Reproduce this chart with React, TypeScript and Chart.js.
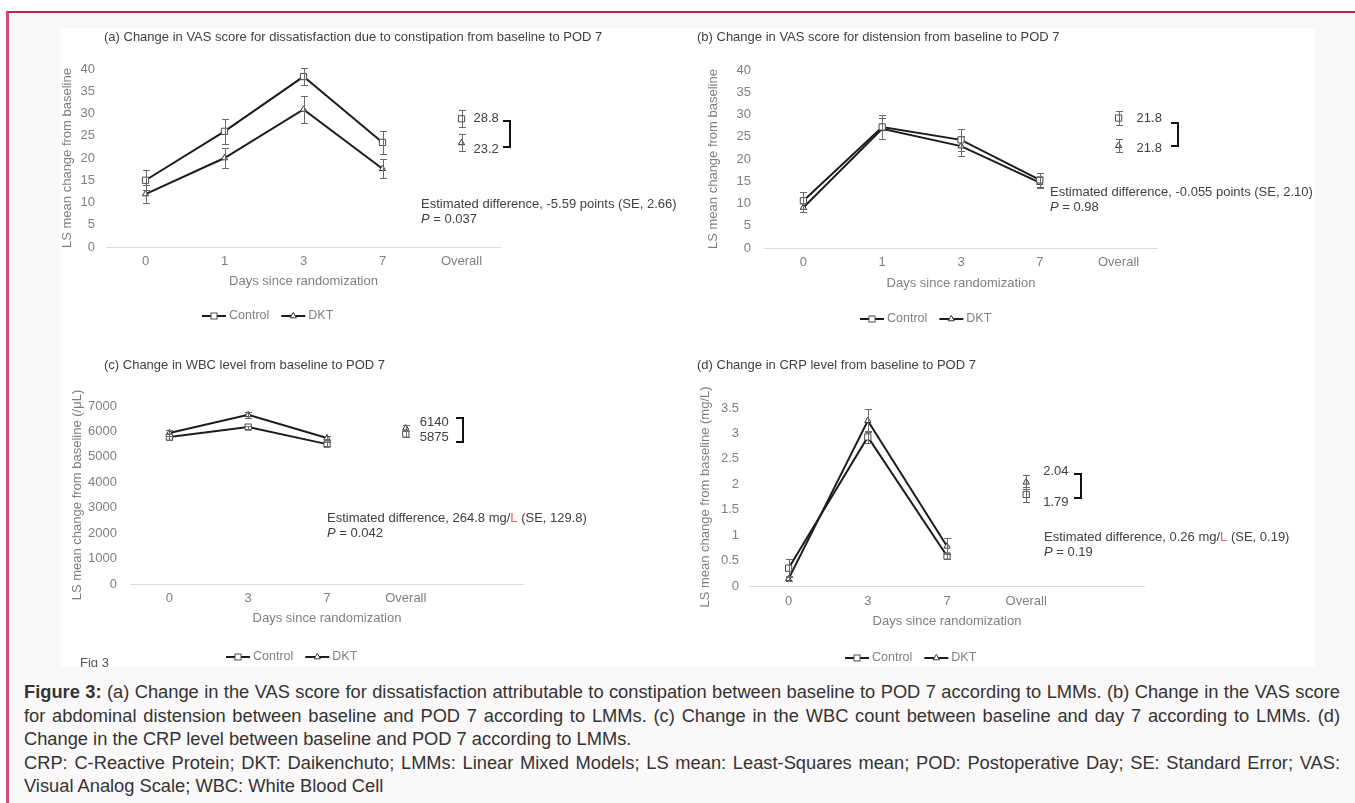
import React, { useEffect, useRef } from 'react';
import { Chart, registerables } from 'chart.js';

Chart.register(...registerables);

const FONT = "'Liberation Sans', Arial, Helvetica, sans-serif";
Chart.defaults.font.family = FONT;

// ---------- Panel (a)
const catsA = ['0', '1', '3', '7', 'Overall'];
const controlA = [15.0, 26.0, 38.3, 23.5];
const controlErrA = [2.3, 2.8, 1.9, 2.6];
const dktA = [11.9, 20.0, 30.9, 17.6];
const dktErrA = [2.0, 2.2, 3.0, 2.2];
const overallA = [28.8, 23.4];
const overallErrA = [1.9, 1.9];
const overallLabelsA = ['28.8', '23.2'];

// ---------- Panel (b)
const catsB = ['0', '1', '3', '7', 'Overall'];
const controlB = [10.6, 27.2, 24.3, 15.3];
const controlErrB = [1.9, 2.7, 2.4, 1.5];
const dktB = [9.1, 26.8, 22.9, 14.7];
const dktErrB = [1.0, 2.4, 2.2, 1.2];
const overallB = [29.2, 23.0];
const overallErrB = [1.5, 1.5];
const overallLabelsB = ['21.8', '21.8'];

// ---------- Panel (c)
const catsC = ['0', '3', '7', 'Overall', ''];
const controlC = [5780, 6170, 5500];
const controlErrC = [100, 60, 80];
const dktC = [5940, 6650, 5740];
const dktErrC = [110, 110, 90];
const overallC = [5900, 6130];
const overallErrC = [130, 120];
const overallLabelsC = ['5875', '6140'];

// ---------- Panel (d)
const catsD = ['0', '3', '7', 'Overall', ''];
const controlD = [0.35, 2.93, 0.59];
const controlErrD = [0.18, 0.12, 0.06];
const dktD = [0.14, 3.25, 0.78];
const dktErrD = [0.05, 0.23, 0.16];
const overallD = [1.8, 2.04];
const overallErrD = [0.15, 0.14];
const overallLabelsD = ['1.79', '2.04'];

const yMaxes = [40, 40, 7000, 3.5];
const ySteps = [5, 5, 1000, 0.5];

type Seg = { t: string; i?: boolean; c?: string };

const RED = '#e06464';

interface Spec {
  cats: string[];
  control: number[];
  controlErr: number[];
  dkt: number[];
  dktErr: number[];
  overall: number[];
  overallErr: number[];
  overallLabels: string[];
  yMax: number;
  yStep: number;
  yTitle: string;
  title: string;
  note: Seg[][];
  extra?: string;
}

interface Lay {
  left: number;
  top: number;
  width: number;
  height: number;
  padT: number;
  padR: number;
  padB: number;
  yW: number;
  yTickPad: number;
  yTitlePad: number;
  xH: number;
  xTickPad: number;
  titlePos: [number, number];
  notePos: [number, number];
  legendY: number;
  labelDx: number;
  labelShift: [number, number];
  bracketDx: number;
  bracketPad: [number, number];
}

const specs: Spec[] = [
  {
    cats: catsA, control: controlA, controlErr: controlErrA, dkt: dktA, dktErr: dktErrA,
    overall: overallA, overallErr: overallErrA, overallLabels: overallLabelsA,
    yMax: yMaxes[0], yStep: ySteps[0],
    yTitle: 'LS mean change from baseline',
    title: '(a) Change in VAS score for dissatisfaction due to constipation from baseline to POD 7',
    note: [[{ t: 'Estimated difference, -5.59 points (SE, 2.66)' }], [{ t: 'P', i: true }, { t: ' = 0.037' }]],
  },
  {
    cats: catsB, control: controlB, controlErr: controlErrB, dkt: dktB, dktErr: dktErrB,
    overall: overallB, overallErr: overallErrB, overallLabels: overallLabelsB,
    yMax: yMaxes[1], yStep: ySteps[1],
    yTitle: 'LS mean change from baseline',
    title: '(b) Change in VAS score for distension from baseline to POD 7',
    note: [[{ t: 'Estimated difference, -0.055 points (SE, 2.10)' }], [{ t: 'P', i: true }, { t: ' = 0.98' }]],
  },
  {
    cats: catsC, control: controlC, controlErr: controlErrC, dkt: dktC, dktErr: dktErrC,
    overall: overallC, overallErr: overallErrC, overallLabels: overallLabelsC,
    yMax: yMaxes[2], yStep: ySteps[2],
    yTitle: 'LS mean change from baseline (/\u03bcL)',
    title: '(c) Change in WBC level from baseline to POD 7',
    note: [[{ t: 'Estimated difference, 264.8 mg/' }, { t: 'L', c: RED }, { t: ' (SE, 129.8)' }], [{ t: 'P', i: true }, { t: ' = 0.042' }]],
    extra: 'Fig 3',
  },
  {
    cats: catsD, control: controlD, controlErr: controlErrD, dkt: dktD, dktErr: dktErrD,
    overall: overallD, overallErr: overallErrD, overallLabels: overallLabelsD,
    yMax: yMaxes[3], yStep: ySteps[3],
    yTitle: 'LS mean change from baseline (mg/L)',
    title: '(d) Change in CRP level from baseline to POD 7',
    note: [[{ t: 'Estimated difference, 0.26 mg/' }, { t: 'L', c: RED }, { t: ' (SE, 0.19)' }], [{ t: 'P', i: true }, { t: ' = 0.19' }]],
  },
];

const lays: Lay[] = [
  {
    left: 60, top: 28, width: 620, height: 312, padT: 41, padR: 179, padB: 51, yW: 46, yTickPad: 11, yTitlePad: 0,
    xH: 42, xTickPad: 7, titlePos: [44, 9], notePos: [361, 176], legendY: 288,
    labelDx: 12, labelShift: [0, 7], bracketDx: 48, bracketPad: [2, -3],
  },
  {
    left: 680, top: 28, width: 635, height: 312, padT: 42, padR: 157, padB: 49, yW: 84, yTickPad: 13, yTitlePad: 26,
    xH: 43, xTickPad: 7, titlePos: [17, 9], notePos: [370, 164], legendY: 291,
    labelDx: 18, labelShift: [0, 3], bracketDx: 59, bracketPad: [5, -3],
  },
  {
    left: 60, top: 340, width: 620, height: 327, padT: 66, padR: 156, padB: 41, yW: 70, yTickPad: 13, yTitlePad: 10,
    xH: 42, xTickPad: 7, titlePos: [44, 25], notePos: [267, 178], legendY: 317,
    labelDx: 14, labelShift: [-6, 3], bracketDx: 57, bracketPad: [-4, 5],
  },
  {
    left: 680, top: 340, width: 635, height: 327, padT: 68, padR: 170, padB: 38, yW: 69, yTickPad: 10, yTitlePad: 18,
    xH: 43, xTickPad: 8, titlePos: [17, 25], notePos: [364, 197], legendY: 318,
    labelDx: 17, labelShift: [-11, 8], bracketDx: 55, bracketPad: [3, -4],
  },
];

const LINE = '#1c1c1c';
const TICK = '#7f7f7f';
const AXT = '#7f7f7f';
const DARK = '#404040';
const ERR = '#6a6a6a';

function drawSquare(ctx: CanvasRenderingContext2D, x: number, y: number, s: number) {
  ctx.save();
  ctx.fillStyle = '#ffffff';
  ctx.strokeStyle = '#4a4a4a';
  ctx.lineWidth = 1;
  ctx.fillRect(x - s / 2, y - s / 2, s, s);
  ctx.strokeRect(x - s / 2, y - s / 2, s, s);
  ctx.restore();
}

function drawTri(ctx: CanvasRenderingContext2D, x: number, y: number, r: number) {
  ctx.save();
  ctx.fillStyle = '#ffffff';
  ctx.strokeStyle = '#333333';
  ctx.lineWidth = 1;
  ctx.beginPath();
  let a = 0;
  for (let k = 0; k < 3; k++) {
    const px = x + Math.sin(a) * r;
    const py = y - Math.cos(a) * r;
    if (k === 0) ctx.moveTo(px, py);
    else ctx.lineTo(px, py);
    a += (2 * Math.PI) / 3;
  }
  ctx.closePath();
  ctx.fill();
  ctx.stroke();
  ctx.restore();
}

function drawSegs(ctx: CanvasRenderingContext2D, segs: Seg[], x: number, y: number, size: number, color: string) {
  let cx = x;
  for (const s of segs) {
    ctx.font = `${s.i ? 'italic ' : ''}${size}px ${FONT}`;
    ctx.fillStyle = s.c || color;
    ctx.fillText(s.t, cx, y);
    cx += ctx.measureText(s.t).width;
  }
  return cx;
}

function overlayPlugin(spec: Spec, lay: Lay, errSets: (number | null)[][]) {
  return {
    id: 'overlay',
    afterDatasetsDraw(chart: any) {
      const ctx: CanvasRenderingContext2D = chart.ctx;
      const ys = chart.scales.y;
      ctx.save();
      ctx.strokeStyle = ERR;
      ctx.lineWidth = 1;
      errSets.forEach((errs, di) => {
        const meta = chart.getDatasetMeta(di);
        const data = chart.data.datasets[di].data;
        meta.data.forEach((pt: any, i: number) => {
          const v = data[i];
          const e = errs[i];
          if (v == null || e == null) return;
          const x = Math.round(pt.x) + 0.5;
          const y1 = Math.round(ys.getPixelForValue(v + e)) + 0.5;
          const y2 = Math.round(ys.getPixelForValue(v - e)) + 0.5;
          ctx.beginPath();
          ctx.moveTo(x, y1);
          ctx.lineTo(x, y2);
          ctx.moveTo(x - 3.5, y1);
          ctx.lineTo(x + 3.5, y1);
          ctx.moveTo(x - 3.5, y2);
          ctx.lineTo(x + 3.5, y2);
          ctx.stroke();
        });
      });
      ctx.restore();
    },
    afterDraw(chart: any) {
      const ctx: CanvasRenderingContext2D = chart.ctx;
      const xs = chart.scales.x;
      const ys = chart.scales.y;
      ctx.save();
      ctx.textBaseline = 'middle';
      ctx.textAlign = 'left';

      // title
      ctx.font = `13px ${FONT}`;
      ctx.fillStyle = DARK;
      ctx.fillText(spec.title, lay.titlePos[0], lay.titlePos[1]);

      // note
      spec.note.forEach((line, k) => {
        drawSegs(ctx, line, lay.notePos[0], lay.notePos[1] + k * 15, 13, DARK);
      });

      // overall labels and bracket
      const oi = spec.cats.indexOf('Overall');
      const ox = xs.getPixelForValue(oi);
      const py = spec.overall.map((v) => ys.getPixelForValue(v));
      const topI = py[0] <= py[1] ? 0 : 1;
      const botI = 1 - topI;
      const topY = py[topI] + lay.labelShift[0];
      const botY = py[botI] + lay.labelShift[1];
      ctx.font = `13px ${FONT}`;
      ctx.fillStyle = DARK;
      ctx.fillText(spec.overallLabels[topI], ox + lay.labelDx, topY);
      ctx.fillText(spec.overallLabels[botI], ox + lay.labelDx, botY);
      const bx = Math.round(ox + lay.bracketDx);
      const by1 = Math.round(topY + lay.bracketPad[0]);
      const by2 = Math.round(botY + lay.bracketPad[1]);
      ctx.strokeStyle = '#111111';
      ctx.lineWidth = 2;
      ctx.beginPath();
      ctx.moveTo(bx - 7, by1);
      ctx.lineTo(bx, by1);
      ctx.lineTo(bx, by2);
      ctx.lineTo(bx - 7, by2);
      ctx.stroke();

      // legend
      let lx = chart.chartArea.left + 96;
      const ly = lay.legendY;
      const items = [
        { name: 'Control', mk: 'sq' },
        { name: 'DKT', mk: 'tri' },
      ];
      for (const it of items) {
        ctx.strokeStyle = LINE;
        ctx.lineWidth = 2;
        ctx.beginPath();
        ctx.moveTo(lx, ly);
        ctx.lineTo(lx + 24, ly);
        ctx.stroke();
        if (it.mk === 'sq') drawSquare(ctx, lx + 12, ly, 6);
        else drawTri(ctx, lx + 12, ly, 3.6);
        ctx.font = `12.5px ${FONT}`;
        ctx.fillStyle = TICK;
        ctx.fillText(it.name, lx + 27, ly);
        lx = lx + 27 + ctx.measureText(it.name).width + 12;
      }

      if (spec.extra) {
        ctx.font = `13px ${FONT}`;
        ctx.fillStyle = '#595959';
        ctx.fillText(spec.extra, 20, lay.height - 4);
      }
      ctx.restore();
    },
  };
}

function makeConfig(spec: Spec, lay: Lay): any {
  const oi = spec.cats.indexOf('Overall');
  const fill = (arr: number[]) => spec.cats.map((_, i) => (i < arr.length ? arr[i] : null));
  const at = (v: number) => spec.cats.map((_, i) => (i === oi ? v : null));
  const sq = {
    pointStyle: 'rect', pointRadius: 4.4, pointBackgroundColor: '#ffffff',
    pointBorderColor: '#4a4a4a', pointBorderWidth: 1,
  };
  const tri = {
    pointStyle: 'triangle', pointRadius: 3.6, pointBackgroundColor: '#ffffff',
    pointBorderColor: '#333333', pointBorderWidth: 1,
  };
  const errSets = [fill(spec.controlErr), fill(spec.dktErr), at(spec.overallErr[0]), at(spec.overallErr[1])];
  return {
    type: 'line',
    data: {
      labels: spec.cats,
      datasets: [
        { label: 'Control', data: fill(spec.control), borderColor: LINE, borderWidth: 2, tension: 0, ...sq },
        { label: 'DKT', data: fill(spec.dkt), borderColor: LINE, borderWidth: 2, tension: 0, ...tri },
        { label: 'Control overall', data: at(spec.overall[0]), showLine: false, ...sq },
        { label: 'DKT overall', data: at(spec.overall[1]), showLine: false, ...tri },
      ],
    },
    options: {
      responsive: false,
      animation: false,
      events: [],
      layout: { padding: { left: 0, right: lay.padR, top: lay.padT, bottom: lay.padB } },
      plugins: { legend: { display: false }, tooltip: { enabled: false }, title: { display: false } },
      scales: {
        x: {
          type: 'category',
          offset: true,
          grid: { display: false, drawTicks: false },
          border: { display: false },
          ticks: { color: TICK, font: { size: 13 }, padding: lay.xTickPad, maxRotation: 0, autoSkip: false },
          title: {
            display: true, text: 'Days since randomization', color: AXT, font: { size: 13 },
            padding: { top: 0, bottom: 0 },
          },
          afterFit: (s: any) => { s.height = lay.xH; },
        },
        y: {
          min: 0,
          max: spec.yMax,
          grid: {
            drawTicks: false,
            lineWidth: 1,
            color: (c: any) => (c.tick && c.tick.value === 0 ? '#d9d9d9' : 'rgba(0,0,0,0)'),
          },
          border: { display: false },
          ticks: { stepSize: spec.yStep, color: TICK, font: { size: 13 }, padding: lay.yTickPad, callback: (v: any) => String(v) },
          title: {
            display: true, text: spec.yTitle, color: AXT, font: { size: 13 },
            padding: { top: lay.yTitlePad, bottom: 0 },
          },
          afterFit: (s: any) => { s.width = lay.yW; },
        },
      },
    },
    plugins: [overlayPlugin(spec, lay, errSets)],
  };
}

function Panel({ spec, lay }: { spec: Spec; lay: Lay }) {
  const ref = useRef<HTMLCanvasElement | null>(null);
  useEffect(() => {
    if (!ref.current) return;
    const chart = new Chart(ref.current, makeConfig(spec, lay));
    return () => chart.destroy();
  }, [spec, lay]);
  return (
    <canvas
      ref={ref}
      width={lay.width}
      height={lay.height}
      style={{ position: 'absolute', left: lay.left, top: lay.top, width: lay.width, height: lay.height, background: '#ffffff' }}
    />
  );
}

export default function App() {
  return (
    <div style={{ position: 'absolute', left: 0, top: 0, width: 1355, height: 803, background: '#ffffff', overflow: 'hidden', fontFamily: FONT }}>
      <div
        style={{
          position: 'absolute', left: 6, top: 11, width: 1355, height: 800, background: '#fbf8f9',
          borderTop: '2px solid #c42148', borderLeft: '3px solid #cb5274',
        }}
      />
      <div style={{ position: 'absolute', left: 60, top: 28, width: 1255, height: 639, background: '#ffffff' }} />
      {specs.map((s, i) => (
        <Panel key={i} spec={s} lay={lays[i]} />
      ))}
      <div
        style={{
          position: 'absolute', left: 24, top: 680, width: 1316, fontSize: 18.3, lineHeight: '23.6px',
          color: '#333333', textAlign: 'justify',
        }}
      >
        <p style={{ margin: 0 }}>
          <b>Figure 3:</b> (a) Change in the VAS score for dissatisfaction attributable to constipation between baseline to POD 7 according to LMMs. (b) Change in the VAS score for abdominal distension between baseline and POD 7 according to LMMs. (c) Change in the WBC count between baseline and day 7 according to LMMs. (d) Change in the CRP level between baseline and POD 7 according to LMMs.
        </p>
        <p style={{ margin: 0 }}>
          CRP: C-Reactive Protein; DKT: Daikenchuto; LMMs: Linear Mixed Models; LS mean: Least-Squares mean; POD: Postoperative Day; SE: Standard Error; VAS: Visual Analog Scale; WBC: White Blood Cell
        </p>
      </div>
    </div>
  );
}
